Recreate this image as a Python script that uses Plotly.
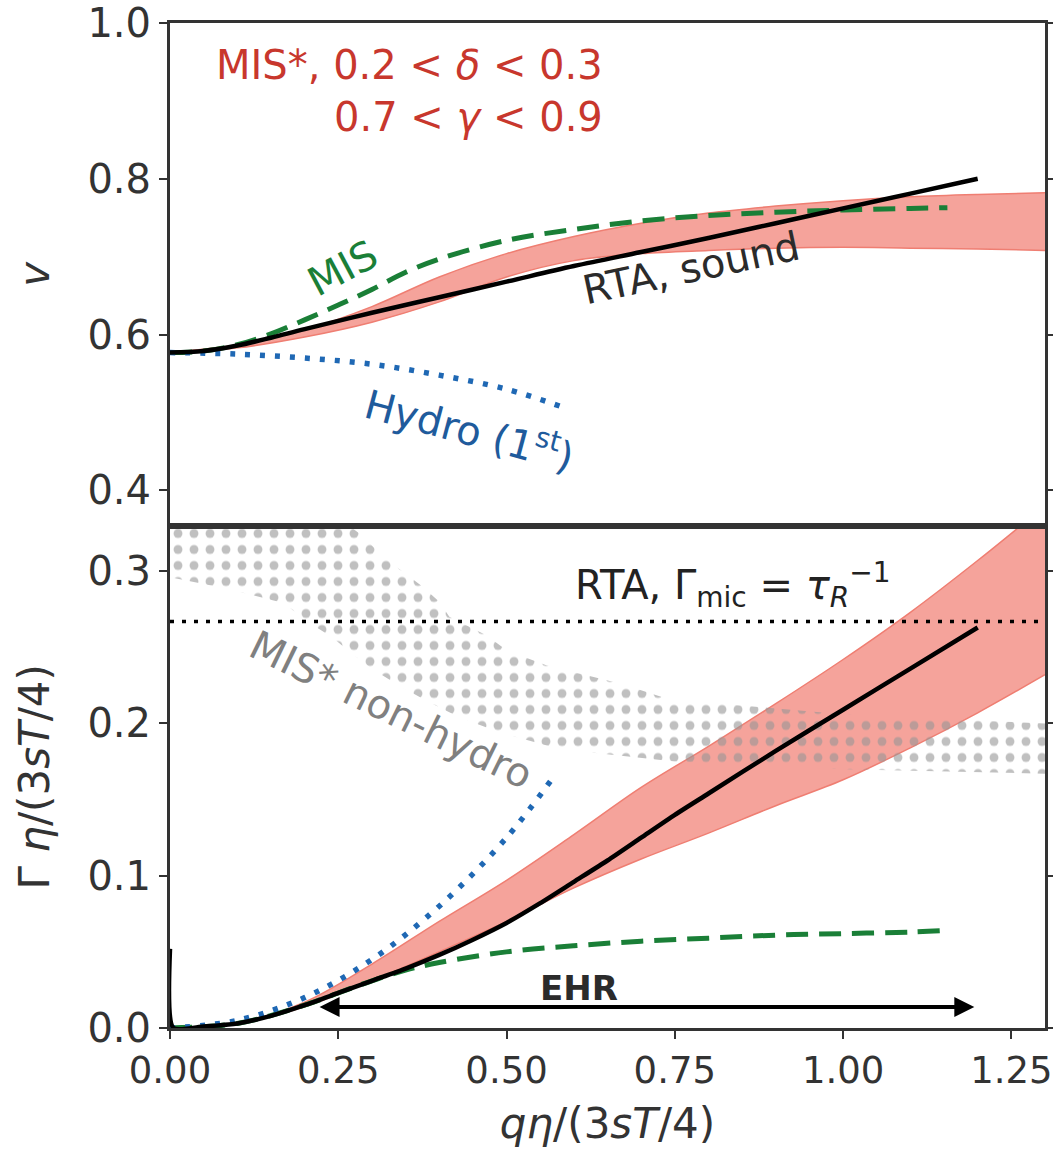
import plotly.graph_objects as go

# ---------------- data: top panel (phase velocity v) ----------------
q_rta_v = [0, 0.05, 0.1, 0.15, 0.2, 0.3, 0.4, 0.5, 0.6, 0.7, 0.8, 0.9, 1.0, 1.1, 1.2]
v_rta = [0.577, 0.579, 0.586, 0.596, 0.607, 0.628, 0.648, 0.668, 0.688, 0.706, 0.724, 0.743, 0.762, 0.781, 0.800]

q_mis_v = [0, 0.05, 0.1, 0.15, 0.2, 0.25, 0.3, 0.35, 0.4, 0.5, 0.6, 0.7, 0.8, 0.9, 1.0, 1.1, 1.155]
v_mis = [0.577, 0.579, 0.587, 0.601, 0.619, 0.638, 0.658, 0.680, 0.697, 0.721, 0.735, 0.746, 0.753, 0.757, 0.760, 0.762, 0.763]

q_hydro_v = [0, 0.1, 0.2, 0.3, 0.4, 0.5, 0.58]
v_hydro = [0.577, 0.575, 0.570, 0.562, 0.548, 0.530, 0.508]

q_band_v = [0, 0.1, 0.2, 0.3, 0.4, 0.5, 0.6, 0.7, 0.8, 0.9, 1.0, 1.1, 1.2, 1.3]
v_band_hi = [0.577, 0.587, 0.606, 0.636, 0.674, 0.704, 0.726, 0.743, 0.756, 0.765, 0.772, 0.777, 0.780, 0.782]
v_band_lo = [0.577, 0.583, 0.597, 0.616, 0.642, 0.674, 0.695, 0.704, 0.708, 0.711, 0.712, 0.711, 0.710, 0.708]

# ---------------- data: bottom panel (damping rate) ----------------
q_rta_g = [0, 0.005, 0.05, 0.1, 0.15, 0.2, 0.25, 0.3, 0.35, 0.4, 0.45, 0.5, 0.55, 0.6, 0.65, 0.7, 0.75,
           0.8, 0.9, 1.0, 1.1, 1.2]
g_rta = [0.052, 0.0, 0.001, 0.003, 0.008, 0.015, 0.023, 0.031, 0.039, 0.048, 0.058, 0.069, 0.082, 0.096,
         0.110, 0.125, 0.140, 0.154, 0.182, 0.209, 0.236, 0.263]

q_mis_g = [0, 0.1, 0.2, 0.25, 0.3, 0.35, 0.4, 0.5, 0.6, 0.7, 0.8, 0.9, 1.0, 1.1, 1.15]
g_mis = [0, 0.003, 0.015, 0.023, 0.031, 0.038, 0.043, 0.050, 0.054, 0.057, 0.059, 0.061, 0.062, 0.063, 0.064]

q_hydro_g = [0, 0.1, 0.2, 0.3, 0.4, 0.5, 0.57]
g_hydro = [0, 0.005, 0.020, 0.045, 0.080, 0.125, 0.165]

q_band_g = [0, 0.1, 0.2, 0.3, 0.4, 0.5, 0.6, 0.7, 0.8, 0.9, 1.0, 1.1, 1.2, 1.3]
g_band_hi = [0, 0.0035, 0.017, 0.042, 0.070, 0.097, 0.127, 0.158, 0.185, 0.213, 0.242, 0.273, 0.307, 0.343]
g_band_lo = [0, 0.003, 0.014, 0.031, 0.050, 0.070, 0.092, 0.111, 0.128, 0.146, 0.163, 0.184, 0.207, 0.232]

# MIS* non-hydro region (dotted hatch)
q_nh_hi = [0, 0.25, 0.29, 0.31, 0.345, 0.375, 0.40, 0.415, 0.47, 0.50, 0.56, 0.67, 0.74, 1.0, 1.3]
g_nh_hi = [0.345, 0.335, 0.322, 0.312, 0.300, 0.290, 0.280, 0.270, 0.258, 0.248, 0.238, 0.226, 0.216, 0.206, 0.200]
q_nh_lo = [0, 0.08, 0.17, 0.20, 0.24, 0.27, 0.30, 0.34, 0.385, 0.43, 0.49, 0.58, 0.75, 1.0, 1.3]
g_nh_lo = [0.296, 0.289, 0.279, 0.268, 0.257, 0.246, 0.236, 0.225, 0.214, 0.204, 0.194, 0.183, 0.175, 0.170, 0.167]

g_rta_mic = 0.267          # RTA, Gamma_mic = 1/tau_R
ehr_range = [0.22, 1.195]  # EHR arrow extent
ehr_level = 0.0138

x_ticks = [0, 0.25, 0.5, 0.75, 1.0, 1.25]
x_ticktext = ["0.00", "0.25", "0.50", "0.75", "1.00", "1.25"]
yb_ticks = [0.0, 0.1, 0.2, 0.3]
yb_ticktext = ["0.0", "0.1", "0.2", "0.3"]
yt_ticks = [0.4, 0.6, 0.8, 1.0]
yt_ticktext = ["0.4", "0.6", "0.8", "1.0"]

# ---------------- styles ----------------
RED_FILL = "rgba(242,140,130,0.80)"
RED_EDGE = "#ef7e72"
GREEN = "#1a7f37"
BLUE = "#1f68b4"
AX = "#333333"
FONT = "DejaVu Sans"

fig = go.Figure()

def line(x, y, ax, **kw):
    fig.add_trace(go.Scatter(x=x, y=y, mode="lines", xaxis="x" + ax, yaxis="y" + ax,
                             hoverinfo="skip", **kw))

# ---- top panel ----
line(q_band_v, v_band_lo, "2", line=dict(color=RED_EDGE, width=1.5, shape="spline"))
line(q_band_v, v_band_hi, "2", line=dict(color=RED_EDGE, width=1.5, shape="spline"),
     fill="tonexty", fillcolor=RED_FILL)
line(q_mis_v, v_mis, "2", line=dict(color=GREEN, width=5, dash="22px,11px", shape="spline"))
line(q_hydro_v, v_hydro, "2", line=dict(color=BLUE, width=5.5, dash="5px,10px", shape="spline"))
line(q_rta_v, v_rta, "2", line=dict(color="black", width=4.5, shape="spline"))

# ---- bottom panel ----
line(q_band_g, g_band_lo, "", line=dict(color=RED_EDGE, width=1.5, shape="spline"))
line(q_band_g, g_band_hi, "", line=dict(color=RED_EDGE, width=1.5, shape="spline"),
     fill="tonexty", fillcolor=RED_FILL)

poly_x = q_nh_hi + q_nh_lo[::-1]
poly_y = g_nh_hi + g_nh_lo[::-1]
line(poly_x, poly_y, "", line=dict(width=0, color="rgba(0,0,0,0)"),
     fill="toself", fillcolor="rgba(0,0,0,0)",
     fillpattern=dict(shape=".", size=16, solidity=0.24,
                      fgcolor="rgba(150,150,150,0.6)", bgcolor="rgba(0,0,0,0)",
                      fillmode="replace"))

line([0, 1.3], [g_rta_mic, g_rta_mic], "", line=dict(color="black", width=3.5, dash="4px,8px"))
line(q_mis_g, g_mis, "", line=dict(color=GREEN, width=5, dash="22px,11px", shape="spline"))
line(q_hydro_g, g_hydro, "", line=dict(color=BLUE, width=5.5, dash="5px,10px", shape="spline"))
line(q_rta_g, g_rta, "", line=dict(color="black", width=4.5, shape="spline", smoothing=0.6))

ann = []
# top panel texts
ann.append(dict(x=0.646, y=0.946, xref="x2", yref="y2", text="MIS*, 0.2 < <i>δ</i> < 0.3",
                showarrow=False, xanchor="right", yanchor="middle", font=dict(size=40, color="#c8372d")))
ann.append(dict(x=0.646, y=0.879, xref="x2", yref="y2", text="0.7 < <i>γ</i> < 0.9",
                showarrow=False, xanchor="right", yanchor="middle", font=dict(size=40, color="#c8372d")))
ann.append(dict(x=0.257, y=0.685, xref="x2", yref="y2", text="MIS", textangle=-28,
                showarrow=False, font=dict(size=40, color=GREEN)))
ann.append(dict(x=0.774, y=0.685, xref="x2", yref="y2", text="RTA, sound", textangle=-12,
                showarrow=False, font=dict(size=40, color="#2b2b2b")))
ann.append(dict(x=0.445, y=0.480, xref="x2", yref="y2", text="Hydro (1<sup>st</sup>)", textangle=15,
                showarrow=False, font=dict(size=40, color="#1f5b9c")))
# bottom panel texts
ann.append(dict(x=0.598, y=0.291, xref="x", yref="y",
                text="RTA, Γ<sub>mic</sub> = <i>τ</i><sub><i>R</i></sub><sup>−1</sup>",
                showarrow=False, xanchor="left", yanchor="middle", font=dict(size=40, color="#222222")))
ann.append(dict(x=0.329, y=0.209, xref="x", yref="y", text="MIS* non-hydro", textangle=26,
                showarrow=False, font=dict(size=40, color="#808080")))
ann.append(dict(x=0.608, y=0.026, xref="x", yref="y", text="<b>EHR</b>",
                showarrow=False, font=dict(size=34, color="#2b2b2b")))
ann.append(dict(x=ehr_range[1], y=ehr_level, ax=ehr_range[0], ay=ehr_level, xref="x", yref="y",
                axref="x", ayref="y", text="", showarrow=True, arrowside="end+start",
                arrowhead=2, arrowsize=1.0, arrowwidth=4, arrowcolor="black", standoff=0, startstandoff=0))

axis_common = dict(showline=True, linewidth=3, linecolor=AX, mirror="ticks", ticks="outside",
                   ticklen=8, tickwidth=2, tickcolor=AX, showgrid=False, zeroline=False,
                   automargin=False, ticklabeloverflow="allow",
                   tickfont=dict(size=40, color=AX, family=FONT))

fig.update_layout(
    width=1053, height=1159,
    margin=dict(l=170, r=8, t=23, b=131),
    paper_bgcolor="white", plot_bgcolor="white",
    showlegend=False,
    font=dict(family=FONT, color=AX),
    annotations=ann,
    xaxis=dict(domain=[0, 1], range=[0, 1.3], tickvals=x_ticks, ticktext=x_ticktext, anchor="y",
               title=dict(text="<i>qη</i>/(3<i>sT</i>/4)", font=dict(size=42, color=AX), standoff=18),
               **{**axis_common, "mirror": True,
                  "tickfont": dict(size=37, color=AX, family=FONT)}),
    yaxis=dict(domain=[0, 0.5], range=[0, 0.33], tickvals=yb_ticks, ticktext=yb_ticktext, anchor="x",
               title=dict(text="Γ <i>η</i>/(3<i>sT</i>/4)", font=dict(size=42, color=AX), standoff=25),
               **axis_common),
    xaxis2=dict(domain=[0, 1], range=[0, 1.3], anchor="y2", matches="x", showticklabels=False,
                showline=True, linewidth=3, linecolor=AX, mirror=True, ticks="", showgrid=False,
                zeroline=False, automargin=False),
    yaxis2=dict(domain=[0.5, 1.0], range=[0.355, 1.0], tickvals=yt_ticks, ticktext=yt_ticktext, anchor="x2",
                title=dict(text="<i>v</i>", font=dict(size=42, color=AX), standoff=25),
                **axis_common),
)

fig.write_html("out.html")
